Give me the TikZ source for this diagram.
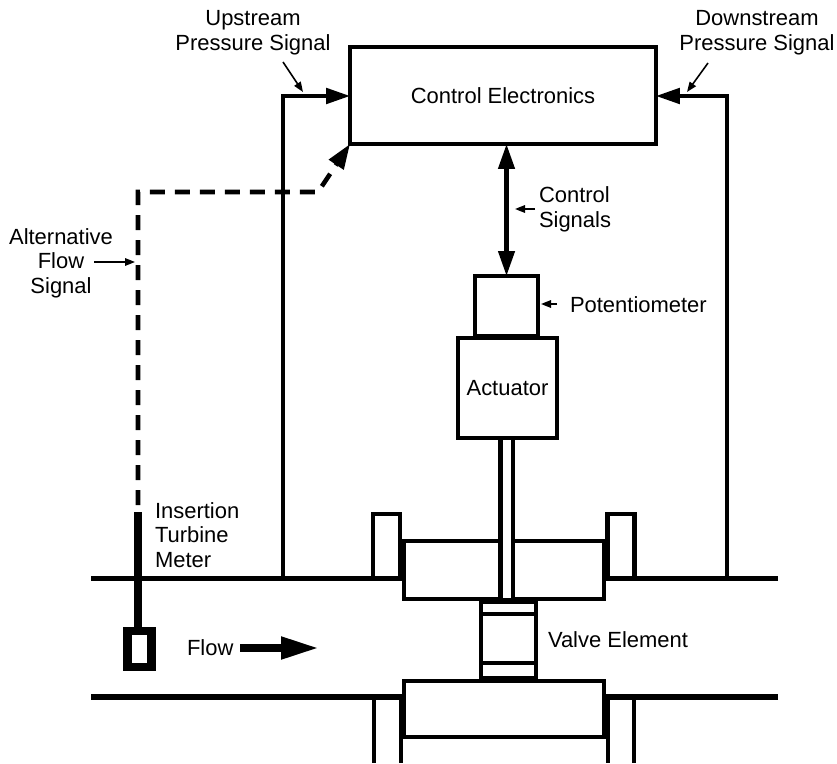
\documentclass[tikz,border=0pt]{standalone}
\usepackage{fontspec}
\setmainfont{Liberation Sans}
\usetikzlibrary{arrows.meta}

\begin{document}
\begin{tikzpicture}[
  x=0.02cm, y=-0.02cm,
  every node/.style={font=\fontsize{12.5}{14}\selectfont, inner sep=0pt, outer sep=0pt},
  block/.style={draw, fill=white, line width=2.4pt},
  wall/.style={line width=2.5pt},
  pipe/.style={line width=3pt},
  sig/.style={line width=2.1pt},
  arr/.style={sig, -{Triangle[length=0.48cm, width=0.31cm]}},
  biarr/.style={line width=2.5pt, {Triangle[length=0.5cm, width=0.32cm]}-{Triangle[length=0.5cm, width=0.32cm]}},
  altdash/.style={line width=2.6pt, dash pattern=on 0.3cm off 0.2cm},
  lead/.style={line width=0.9pt, -{Triangle[length=0.2cm, width=0.15cm]}},
]
  \useasboundingbox (0,0) rectangle (837,763);

  \coordinate (pipeUL) at (91,578.5);
  \coordinate (pipeUR) at (778,578.5);
  \coordinate (pipeLL) at (91,697);
  \coordinate (pipeLR) at (778,697);

  \node[draw, wall, minimum width=0.54cm, minimum height=1.28cm] (flangeUL) at (386.5,546) {};
  \node[draw, wall, minimum width=0.54cm, minimum height=1.28cm] (flangeUR) at (621,546) {};
  \node[draw, wall, fill=white, minimum width=4cm, minimum height=1.16cm] (bodyU) at (504,570) {};
  \node[draw, wall, fill=white, minimum width=4cm, minimum height=1.12cm] (bodyL) at (504,709) {};
  \node[draw, wall, fill=white, minimum width=0.25cm, minimum height=3.26cm] (stem) at (506.75,519) {};
  \node[draw, wall, fill=white, minimum width=1.1cm, minimum height=1.52cm] (valve) at (508.5,640) {};

  \node[block, minimum width=6.12cm, minimum height=1.94cm] (ctrl) at (503,95.5) {Control Electronics};
  \node[block, minimum width=1.26cm, minimum height=1.2cm] (pot) at (506.5,306) {};
  \node[block, minimum width=1.98cm, minimum height=2cm] (act) at (507.5,388) {Actuator};

  \coordinate (bandT) at (481,614);
  \coordinate (bandB) at (481,663);
  \draw[sig] (bandT) -- (bandT -| valve.east);
  \draw[sig] (bandB) -- (bandB -| valve.east);

  \draw[pipe] (pipeUL) -- (pipeUL -| bodyU.west);
  \draw[pipe] (pipeUR) -- (pipeUR -| bodyU.east);
  \draw[pipe] (pipeLL) -- (pipeLL -| bodyL.west);
  \draw[pipe] (pipeLR) -- (pipeLR -| bodyL.east);

  \draw[wall] (374,697) -- (374,763);
  \draw[wall] (401,697) -- (401,763);
  \draw[wall] (608,697) -- (608,763);
  \draw[wall] (634,697) -- (634,763);

  \coordinate (upCorner) at (283,96);
  \coordinate (upBase) at (283,578);
  \coordinate (downCorner) at (727,96);
  \coordinate (downBase) at (727,578);
  \draw[arr] (upBase) -- (upCorner) -- (ctrl.west |- upCorner);
  \draw[arr] (downBase) -- (downCorner) -- (ctrl.east |- downCorner);
  \draw[biarr] (ctrl.south -| pot.north) -- (pot.north);

  \node[draw, line width=5pt, fill=white, minimum width=0.48cm, minimum height=0.72cm] (meter) at (139.5,649) {};
  \coordinate (meterTop) at (138,512);
  \draw[line width=4.6pt] (meterTop) -- (meter.north -| meterTop);

  \coordinate (dashTop) at (138,505);
  \coordinate (dashCorner) at (138,192);
  \coordinate (dashBend) at (318,192);
  \draw[altdash, -{Triangle[length=0.5cm, width=0.34cm]}] (dashTop) -- (dashCorner) -- (dashBend) -- (ctrl.south west);

  \node (upLabel) at (253,33) [align=center] {Upstream\\Pressure Signal};
  \node (downLabel) at (757,33) [align=center] {Downstream\\Pressure Signal};
  \node (sigLabel) at (539,209.5) [anchor=west, align=left] {Control\\Signals};
  \node (potLabel) at (570,305) [anchor=west] {Potentiometer};
  \node (altLabel) at (61,263) [align=center] {Alternative\\Flow\\Signal};
  \node (turbLabel) at (155,535) [anchor=west, align=left] {Insertion\\Turbine\\Meter};
  \node (valveLabel) at (548,640) [anchor=west] {Valve Element};
  \node (flowLabel) at (187,648) [anchor=west] {Flow};

  \coordinate (upFrom) at (283,62);
  \coordinate (upTo) at (303,92);
  \coordinate (downFrom) at (708,63);
  \coordinate (downTo) at (687,92);
  \coordinate (sigFrom) at (535,209);
  \coordinate (sigTo) at (515,209);
  \coordinate (potFrom) at (557,304);
  \coordinate (potTo) at (541,304);
  \coordinate (altFrom) at (94,262);
  \coordinate (altTo) at (135,262);
  \draw[lead] (upFrom) -- (upTo);
  \draw[lead] (downFrom) -- (downTo);
  \draw[lead] (sigFrom) -- (sigTo);
  \draw[lead] (potFrom) -- (potTo);
  \draw[lead] (altFrom) -- (altTo);

  \coordinate (flowFrom) at (240,648);
  \coordinate (flowTo) at (319,648);
  \draw[line width=4.4pt, -{Triangle[length=0.76cm, width=0.42cm]}] (flowFrom) -- (flowTo);
\end{tikzpicture}
\end{document}
